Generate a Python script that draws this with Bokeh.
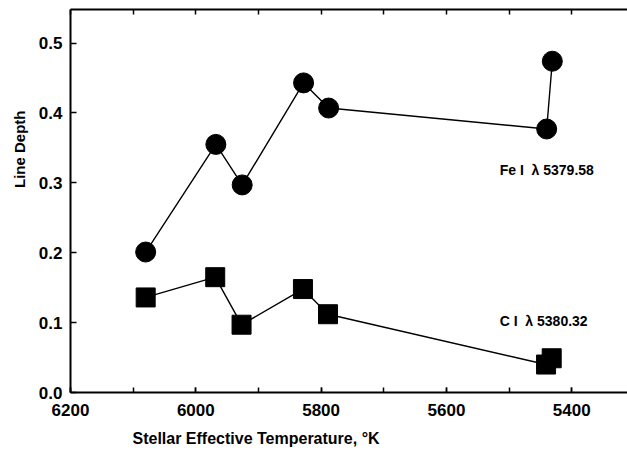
from bokeh.plotting import figure
from bokeh.models import (Range1d, LinearAxis, FixedTicker, NumeralTickFormatter,
                          Title, Label)
from bokeh.embed import file_html
from bokeh.resources import INLINE

# Data
fe_temp = [6080, 5968, 5926, 5828, 5788, 5440, 5431]
fe_depth = [0.201, 0.355, 0.297, 0.443, 0.407, 0.377, 0.474]
c_temp = [6080, 5969, 5927, 5829, 5789, 5441, 5432]
c_depth = [0.136, 0.165, 0.097, 0.148, 0.112, 0.040, 0.049]

x_major_ticks = [6200, 6000, 5800, 5600, 5400]
x_all_ticks = [6200, 6100, 6000, 5900, 5800, 5700, 5600, 5500, 5400]
y_ticks = [0.0, 0.1, 0.2, 0.3, 0.4, 0.5]

x_title = "Stellar Effective Temperature, \u00b0K"
y_title = "Line Depth"
fe_label = "Fe I\u00a0\u00a0\u03bb 5379.58"
c_label = "C I\u00a0\u00a0\u03bb 5380.32"
fe_label_pos = (5515, 0.318)
c_label_pos = (5515, 0.103)

FONT = "Liberation Sans"

p = figure(width=627, height=455, output_backend="svg", toolbar_location=None,
           x_range=Range1d(6200, 5311), y_range=Range1d(0, 0.548),
           min_border_left=69, min_border_right=0, min_border_top=9,
           min_border_bottom=63, x_axis_location=None, y_axis_location=None)
p.outline_line_color = None
p.xgrid.visible = False
p.ygrid.visible = False
p.background_fill_color = "white"
p.border_fill_color = "white"

# bottom axis
xb = LinearAxis(ticker=FixedTicker(ticks=x_major_ticks, minor_ticks=x_all_ticks))
xb.axis_line_width = 2
xb.major_tick_in = 5
xb.major_tick_out = 0
xb.minor_tick_in = 5
xb.minor_tick_out = 0
xb.major_tick_line_width = 1.5
xb.minor_tick_line_width = 1.5
xb.major_label_standoff = 11
xb.major_label_text_font = FONT
xb.major_label_text_font_size = "17px"
xb.major_label_text_font_style = "bold"
xb.major_label_text_color = "black"
p.add_layout(xb, "below")

# top axis (line + inward ticks only)
xt = LinearAxis(ticker=FixedTicker(ticks=x_all_ticks, minor_ticks=[]))
xt.axis_line_width = 2
xt.major_tick_in = 5
xt.major_tick_out = 0
xt.minor_tick_in = 0
xt.minor_tick_out = 0
xt.major_tick_line_width = 1.5
xt.major_label_overrides = {t: "" for t in x_all_ticks}
xt.major_label_standoff = 0
p.add_layout(xt, "above")

# left axis
yl = LinearAxis(ticker=FixedTicker(ticks=y_ticks, minor_ticks=[]),
                formatter=NumeralTickFormatter(format="0.0"))
yl.axis_line_width = 2
yl.major_tick_in = 6
yl.major_tick_out = 0
yl.minor_tick_in = 0
yl.minor_tick_out = 0
yl.major_tick_line_width = 1.5
yl.major_label_standoff = 8
yl.major_label_text_font = FONT
yl.major_label_text_font_size = "17px"
yl.major_label_text_font_style = "bold"
yl.major_label_text_color = "black"
p.add_layout(yl, "left")

p.add_layout(Title(text=x_title, align="left", offset=62, standoff=18,
                   text_font=FONT, text_font_size="16px", text_font_style="bold",
                   text_color="black"), "below")
p.add_layout(Title(text=y_title, align="right", offset=101, standoff=16,
                   text_font=FONT, text_font_size="15px", text_font_style="bold",
                   text_color="black"), "left")

# series
p.line(fe_temp, fe_depth, line_color="black", line_width=1.4)
p.scatter(fe_temp, fe_depth, marker="circle", size=20, fill_color="black", line_color="black")
p.line(c_temp, c_depth, line_color="black", line_width=1.4)
p.scatter(c_temp, c_depth, marker="square", size=19, fill_color="black", line_color="black")

for txt, (lx, ly) in [(fe_label, fe_label_pos), (c_label, c_label_pos)]:
    p.add_layout(Label(x=lx, y=ly, text=txt, text_font=FONT, text_font_size="14px",
                       text_font_style="bold", text_baseline="middle", text_align="left",
                       text_color="black"))

open("out.html", "w").write(file_html(p, INLINE))
